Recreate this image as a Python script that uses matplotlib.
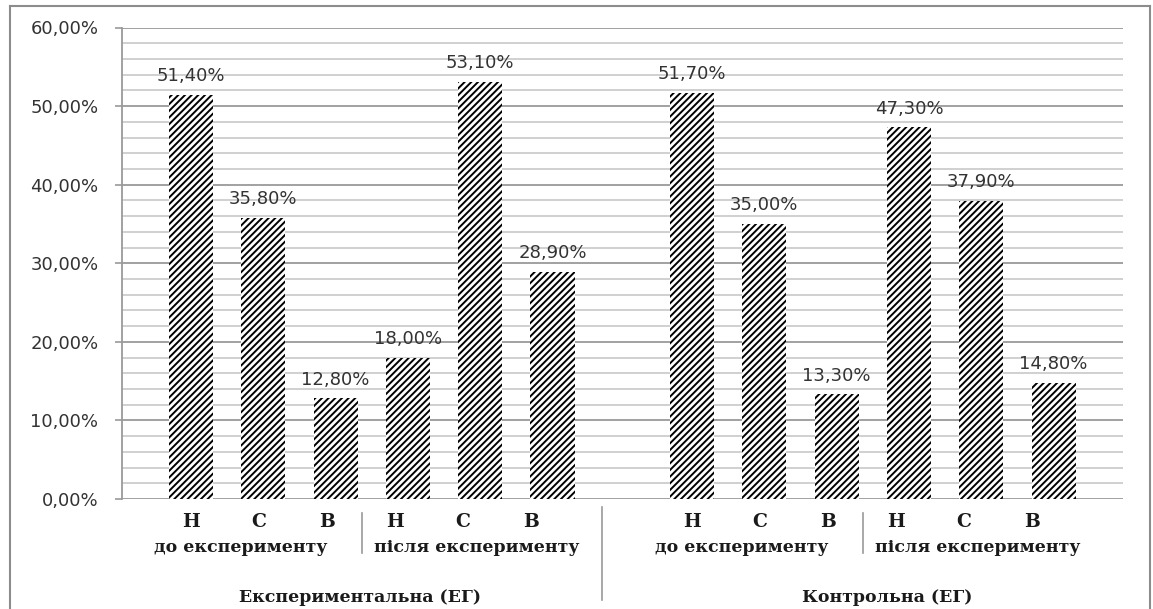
"""Рівні сформованості: експериментальна та контрольна групи (до / після)."""

import matplotlib.pyplot as plt
from matplotlib.lines import Line2D
from matplotlib.ticker import FuncFormatter, MultipleLocator
from matplotlib.transforms import blended_transform_factory

plt.rcParams["hatch.linewidth"] = 1.4

levels = ["Н", "С", "В"]
stages = ["до експерименту", "після експерименту"]
groups = ["Експериментальна (ЕГ)", "Контрольна (ЕГ)"]

exp_values = [51.4, 35.8, 12.8, 18.0, 53.1, 28.9]
ctrl_values = [51.7, 35.0, 13.3, 47.3, 37.9, 14.8]

W, H = 1153, 609
group_start = [0.0, 6.93]
bar_width = 0.61
serif = dict(fontsize=12.5, fontweight="bold", family="DejaVu Serif",
             color="#1a1a1a")


def pct(v, _=None):
    return f"{v:.2f}%".replace(".", ",")


fig = plt.figure(figsize=(W / 100, H / 100), dpi=100)
ax = fig.add_axes([122 / W, 1 - 499 / H, (1123 - 122) / W, (499 - 27.5) / H])

ax.set_xlim(-0.954, 12.89)
ax.set_ylim(0, 60)
ax.yaxis.set_major_locator(MultipleLocator(10))
ax.yaxis.set_minor_locator(MultipleLocator(2))
ax.yaxis.set_major_formatter(FuncFormatter(pct))
ax.grid(axis="y", which="major", color="#9a9a9a", lw=1.3)
ax.grid(axis="y", which="minor", color="#c4c4c4", lw=1.1)
ax.set_axisbelow(True)
ax.tick_params(axis="y", which="major", length=5, width=1.2, color="#9a9a9a",
               pad=12, labelsize=13, labelcolor="#333333")
ax.tick_params(axis="y", which="minor", length=0)
ax.set_xticks([])
for side in ["top", "right", "bottom"]:
    ax.spines[side].set_visible(False)
ax.spines["left"].set_color("#9a9a9a")
ax.spines["left"].set_linewidth(1.3)

trans = blended_transform_factory(ax.transData, fig.transFigure)


def fy(py):
    return 1 - py / H


for start, vals in zip(group_start, [exp_values, ctrl_values]):
    xs = [start + i for i in range(len(vals))]
    ax.bar(xs, vals, width=bar_width, facecolor="white",
           edgecolor="black", hatch="/////", linewidth=0)
    for x, v in zip(xs, vals):
        ax.annotate(pct(v), (x, v), xytext=(0, 7), textcoords="offset points",
                    ha="center", va="bottom", fontsize=13, color="#333333")

    # category labels under the axis
    for i in range(len(vals)):
        ax.text(start + i * 0.94, fy(527), levels[i % 3], transform=trans,
                ha="center", va="baseline", **{**serif, "fontsize": 13.5})
    for off, stage in zip([0.69, 3.95], stages):
        ax.text(start + off, fy(552), stage, transform=trans, ha="center",
                va="baseline", **serif)
    fig.add_artist(Line2D([start + 2.365] * 2, [fy(513), fy(553)],
                          transform=trans, color="#9a9a9a", lw=1.2))

ax.text(2.34, fy(602), groups[0], transform=trans, ha="center", va="baseline",
        **serif)
ax.text(9.63, fy(602), groups[1], transform=trans, ha="center", va="baseline",
        **serif)
fig.add_artist(Line2D([5.685] * 2, [fy(507), fy(600)], transform=trans,
                      color="#9a9a9a", lw=1.2))

# chart frame
frame = dict(color="#8c8c8c", lw=1.5)
fig.add_artist(Line2D([10 / W, 10 / W], [fy(6), 0], **frame))
fig.add_artist(Line2D([10 / W, 1150 / W], [fy(6), fy(6)], **frame))
fig.add_artist(Line2D([1150 / W, 1150 / W], [fy(6), 0], **frame))

fig.savefig("out.png", dpi=100, facecolor="white")
